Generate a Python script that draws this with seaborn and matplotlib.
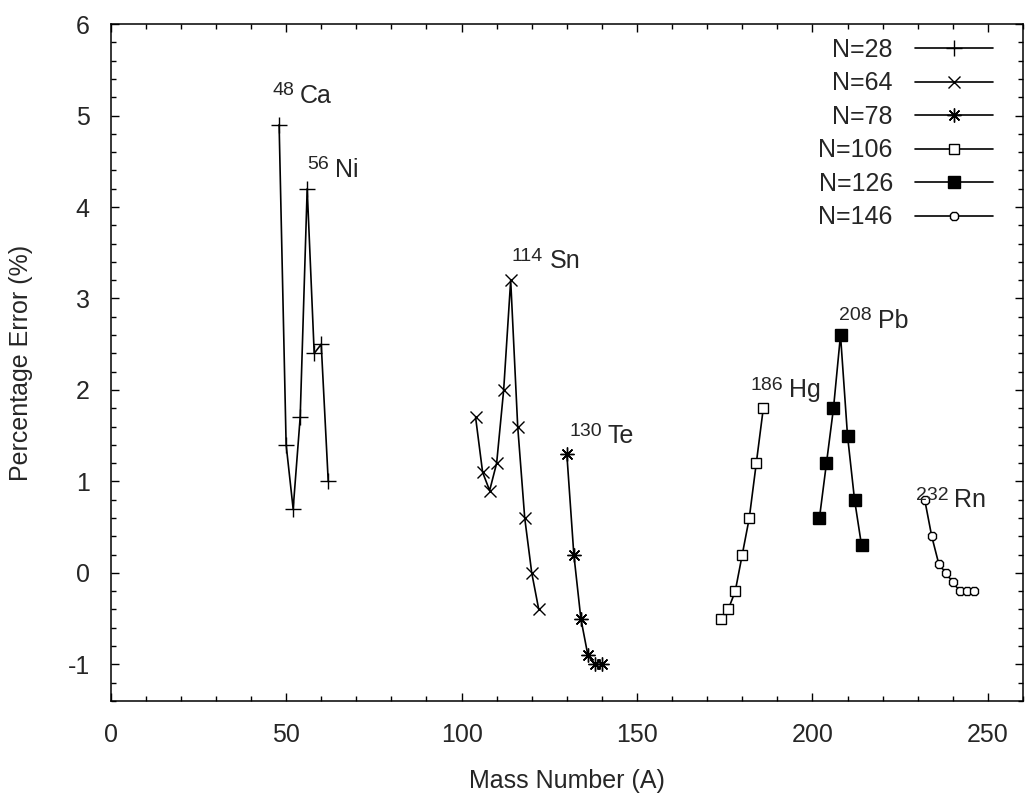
import matplotlib
matplotlib.use('Agg')
import matplotlib.pyplot as plt
import pandas as pd
import seaborn as sns
from matplotlib.ticker import MultipleLocator

# Data: mass number A and percentage error for each isotone chain
a_n28 = [48, 50, 52, 54, 56, 58, 60, 62]
err_n28 = [4.9, 1.4, 0.7, 1.7, 4.2, 2.4, 2.5, 1.0]

a_n64 = [104, 106, 108, 110, 112, 114, 116, 118, 120, 122]
err_n64 = [1.7, 1.1, 0.9, 1.2, 2.0, 3.2, 1.6, 0.6, 0.0, -0.4]

a_n78 = [130, 132, 134, 136, 138, 140]
err_n78 = [1.3, 0.2, -0.5, -0.9, -1.0, -1.0]

a_n106 = [174, 176, 178, 180, 182, 184, 186]
err_n106 = [-0.5, -0.4, -0.2, 0.2, 0.6, 1.2, 1.8]

a_n126 = [202, 204, 206, 208, 210, 212, 214]
err_n126 = [0.6, 1.2, 1.8, 2.6, 1.5, 0.8, 0.3]

a_n146 = [232, 234, 236, 238, 240, 242, 244, 246]
err_n146 = [0.8, 0.4, 0.1, 0.0, -0.1, -0.2, -0.2, -0.2]

series_labels = ['N=28', 'N=64', 'N=78', 'N=106', 'N=126', 'N=146']

# isotope annotations: mass number, element, where the label starts
nuclide_mass = ['48', '56', '114', '130', '186', '208', '232']
nuclide_elem = ['Ca', 'Ni', 'Sn', 'Te', 'Hg', 'Pb', 'Rn']
nuclide_x = [46.0, 56.0, 114.2, 130.7, 182.4, 207.7, 229.5]
nuclide_y = [5.14, 4.33, 3.33, 1.42, 1.92, 2.68, 0.72]

sns.set_style('ticks')
plt.rcParams['font.family'] = ['Liberation Sans', 'DejaVu Sans']
plt.rcParams['axes.unicode_minus'] = False

fig = plt.figure(figsize=(10.25, 8.02), dpi=100)
ax = fig.add_axes([0.108, 0.126, 0.890, 0.844])

styles = [
    dict(marker='+', markersize=12, mfc='black'),
    dict(marker='x', markersize=8, mfc='black'),
    dict(marker=(8, 2, 0), markersize=10, mfc='black'),
    dict(marker='s', markersize=7, mfc='white'),
    dict(marker='s', markersize=8.5, mfc='black'),
    dict(marker='8', markersize=6, mfc='white'),
]

xs = [a_n28, a_n64, a_n78, a_n106, a_n126, a_n146]
ys = [err_n28, err_n64, err_n78, err_n106, err_n126, err_n146]

for x, y, lab, st in zip(xs, ys, series_labels, styles):
    df = pd.DataFrame({'A': x, 'err': y})
    sns.lineplot(data=df, x='A', y='err', ax=ax, color='black', lw=1.2,
                 label=lab, mec='black', mew=1.0, estimator=None, sort=False, **st)

# nuclide labels (superscript mass number + element symbol)
for m, e, x, y in zip(nuclide_mass, nuclide_elem, nuclide_x, nuclide_y):
    ax.text(x, y + 0.08, m, fontsize=14, ha='left', va='baseline')
    off = 3.1 * len(m) + 1.6
    ax.text(x + off, y, e, fontsize=18, ha='left', va='baseline')

ax.set_xlim(0, 260)
ax.set_ylim(-1.4, 6)
ax.xaxis.set_major_locator(MultipleLocator(50))
ax.xaxis.set_minor_locator(MultipleLocator(10))
ax.yaxis.set_major_locator(MultipleLocator(1))
ax.yaxis.set_minor_locator(MultipleLocator(0.2))
ax.tick_params(which='both', direction='in', top=True, right=True, width=1, color='black')
ax.tick_params(which='major', length=6)
ax.tick_params(which='minor', length=3.5)
ax.tick_params(axis='x', which='major', labelsize=18, pad=16)
ax.tick_params(axis='y', which='major', labelsize=18, pad=15)
for sp in ax.spines.values():
    sp.set_linewidth(1.1)
    sp.set_color('black')
    sp.set_visible(True)

ax.set_xlabel('Mass Number (A)', fontsize=18, labelpad=16)
ax.set_ylabel('Percentage Error (%)', fontsize=18, labelpad=25)

ax.legend(loc='upper right', frameon=False, markerfirst=False, fontsize=18,
          handlelength=3.1, labelspacing=0.38, handletextpad=0.9,
          borderaxespad=0.15, bbox_to_anchor=(0.982, 1.0))

fig.savefig('out.png', dpi=100)
